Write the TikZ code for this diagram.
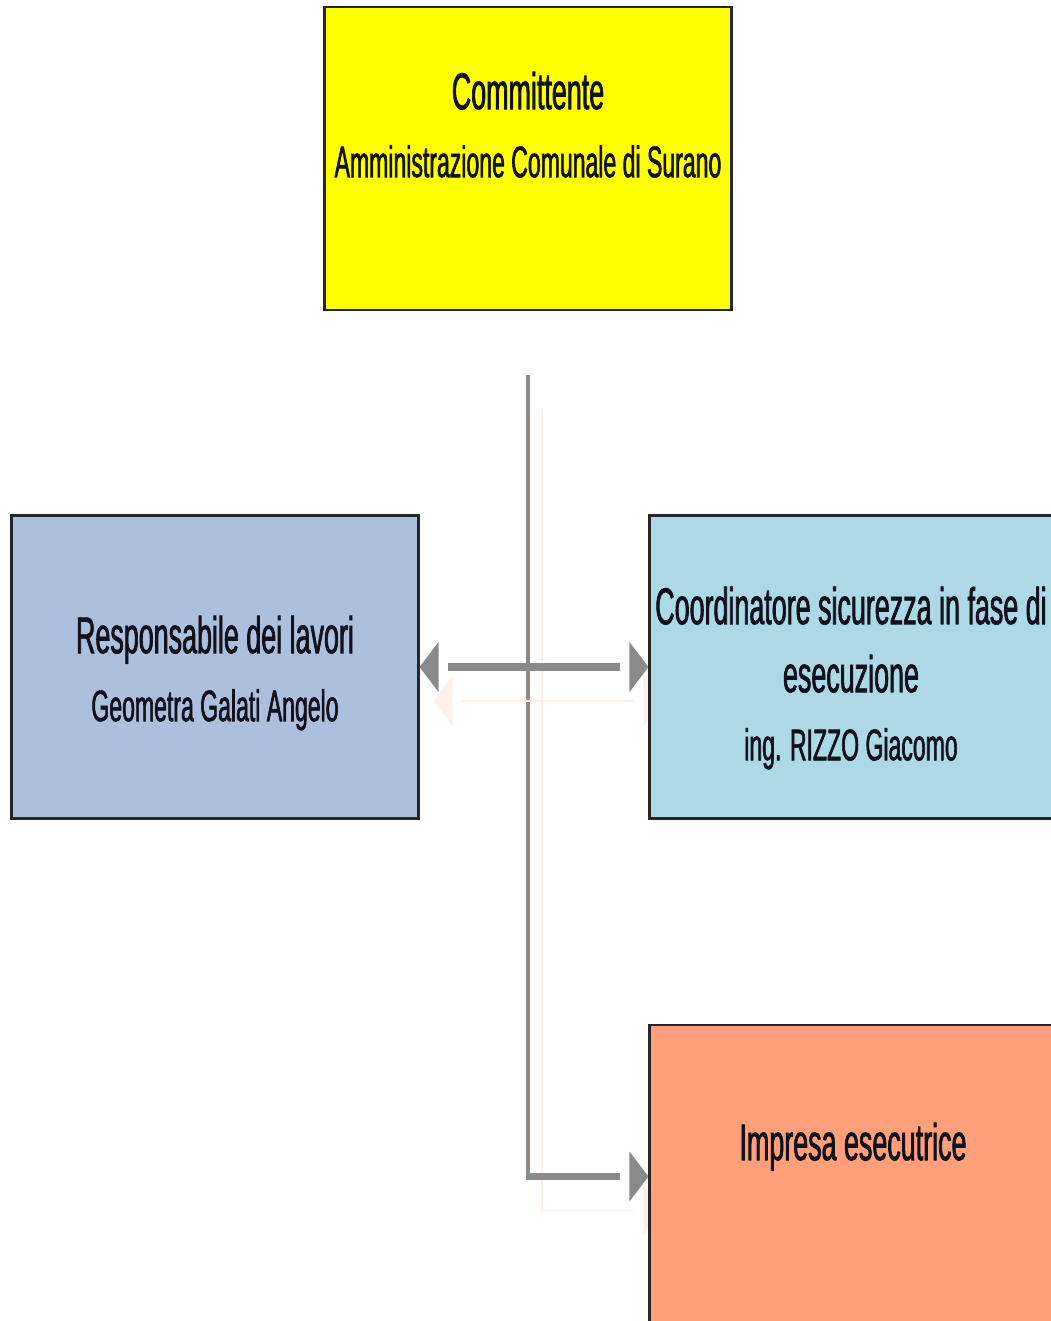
\documentclass[tikz,border=0pt]{standalone}
\usepackage{fontspec}
\newfontfamily\stretto[FakeStretch=0.52,FakeBold=1.3]{Liberation Sans}
\usetikzlibrary{arrows.meta,calc,backgrounds}

\definecolor{giallo}{HTML}{FFFF00}
\definecolor{grigioblu}{HTML}{ACC0DE}
\definecolor{azzurro}{HTML}{ADD8E6}
\definecolor{salmone}{HTML}{FFA07A}
\definecolor{freccia}{HTML}{8A8A8A}
\definecolor{ombra}{HTML}{FEF0E8}
\definecolor{inchiostro}{HTML}{12121C}

\newcommand{\titolo}{\stretto\fontsize{14.7}{19.35}\selectfont}
\newcommand{\sotto}{\fontsize{12.6}{15}\selectfont}

\begin{document}
\begin{tikzpicture}[x=0.01cm,y=-0.01cm,
  box/.style={draw=black!85,line width=0.8pt,minimum width=4.06cm,minimum height=3.03cm,inner sep=0pt},
  testo/.style={anchor=north,inner sep=0pt,align=center,text=inchiostro,font=\titolo},
  conn/.style={draw=freccia,line width=2.1pt,preaction={draw=ombra,transform canvas={shift={(14,34)}}}},
  >={Triangle[length=0.01pt,width=0.01pt,line width'=0pt,sep=2.8pt].Triangle[length=5.4pt,width=14.2pt,line width'=0pt]}]
\useasboundingbox (0,0) rectangle (1050,1321);

% caselle
\node[box,fill=giallo] (comm) at (528,158.5) {};
\node[box,fill=grigioblu] (resp) at (215,667) {};
\node[box,fill=azzurro] (coord) at (853,667) {};
\node[box,fill=salmone] (impr) at (853,1176.5) {};

\node[testo] (commtxt) at (528,71) {Committente\\{\sotto Amministrazione Comunale di Surano}};
\node[testo] (resptxt) at (215,615) {Responsabile dei lavori\\{\sotto Geometra Galati Angelo}};
\node[testo] (coordtxt) at (851,586) {Coordinatore sicurezza in fase di\\esecuzione\\{\sotto ing. RIZZO Giacomo}};
\node[testo] (imprtxt) at (853,1122) {Impresa esecutrice};

% collegamenti, sotto le caselle
\begin{scope}[on background layer]
\coordinate (cima) at (528,375);
\coordinate (gomito) at (cima |- impr.west);
\draw[conn,line width=1.4pt] (cima) -- ([yshift=-1.05pt]gomito);
\draw[conn,->] (gomito) -- (impr.west);
\draw[conn,<->] (resp.east) -- (coord.west);
\end{scope}
\end{tikzpicture}
\end{document}
